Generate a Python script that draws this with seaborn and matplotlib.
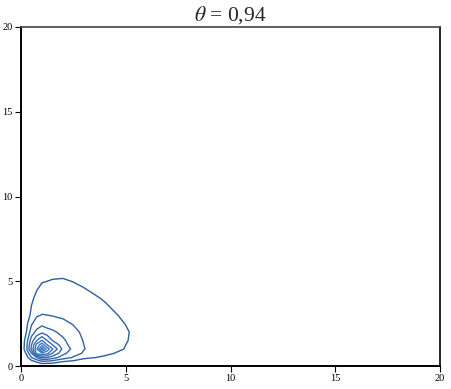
import numpy as np
import matplotlib
matplotlib.use("Agg")
import matplotlib.pyplot as plt
import seaborn as sns


grid_x = [0, 0.25, 0.5, 0.75, 1, 1.25, 1.5, 2, 2.5, 3, 4, 5, 6]
grid_y = [0, 0.25, 0.5, 0.75, 1, 1.25, 1.5, 2, 2.5, 3, 4, 5, 6]

# estimated density (arbitrary units), rows = grid_y, columns = grid_x
density = [
    [0, 0,    0,    0,    0,    0,    0,    0,    0,    0,    0,    0,    0],
    [0, 0.3,  0.5,  1.1,  1.7,  1.6,  1.5,  0.95, 0.7,  0.5,  0.3,  0.15, 0.05],
    [0, 0.5,  2.0,  3.0,  4.2,  4.0,  3.5,  2.5,  1.9,  1.2,  0.85, 0.4,  0.15],
    [0, 1.1,  3.0,  6.4,  6.9,  6.3,  5.0,  3.3,  2.4,  1.9,  1.2,  0.75, 0.3],
    [0, 1.7,  4.2,  6.9,  9.6,  7.6,  6.1,  3.75, 2.73, 2.03, 1.49, 0.95, 0.5],
    [0, 1.6,  4.0,  6.3,  7.6,  6.0,  5.0,  3.4,  2.55, 2.0,  1.5,  1.0,  0.55],
    [0, 1.5,  3.5,  5.0,  6.1,  5.0,  4.0,  3.2,  2.45, 1.95, 1.5,  1.05, 0.6],
    [0, 0.95, 2.5,  3.3,  3.75, 3.4,  3.2,  2.7,  2.2,  1.85, 1.45, 1.08, 0.6],
    [0, 0.7,  1.9,  2.4,  2.73, 2.55, 2.45, 2.2,  1.95, 1.75, 1.35, 0.98, 0.55],
    [0, 0.5,  1.2,  1.9,  2.03, 2.0,  1.95, 1.85, 1.75, 1.57, 1.25, 0.85, 0.45],
    [0, 0.3,  0.85, 1.2,  1.49, 1.5,  1.5,  1.45, 1.35, 1.25, 0.93, 0.6,  0.3],
    [0, 0.15, 0.4,  0.75, 0.95, 1.0,  1.05, 1.08, 0.98, 0.85, 0.6,  0.35, 0.15],
    [0, 0.05, 0.15, 0.3,  0.5,  0.55, 0.6,  0.6,  0.55, 0.45, 0.3,  0.15, 0.05],
]

contour_levels = [1, 2, 3, 4, 5, 6, 7, 8, 9]

x_ticks = [0, 5, 10, 15, 20]
y_ticks = [0, 5, 10, 15, 20]
title_text = r"$\theta$ = 0,94"


sns.set_style("ticks")
plt.rcParams['font.family'] = ['Liberation Serif', 'DejaVu Serif']
plt.rcParams['mathtext.fontset'] = 'stix'

fig = plt.figure(figsize=(4.51, 3.89), dpi=100)
ax = fig.add_axes([21 / 451, 23 / 389, 419 / 451, 339 / 389])

# outer lines a bit darker, inner ones brighter blue
line_colors = sns.blend_palette(["#2f5e9e", "#3b7ccc"], len(contour_levels))
ax.contour(grid_x, grid_y, density, levels=contour_levels,
           colors=line_colors, linewidths=1.0)

ax.set_xlim(0, 20)
ax.set_ylim(0, 20)
ax.set_xticks(x_ticks)
ax.set_yticks(y_ticks)
ax.tick_params(axis='both', direction='out', length=4, width=0.8,
               labelsize=7.5, pad=2, colors='black')

for side in ['left', 'bottom']:
    ax.spines[side].set_linewidth(1.4)
    ax.spines[side].set_color('black')
ax.spines['right'].set_linewidth(1.2)
ax.spines['right'].set_color('black')
ax.spines['top'].set_linewidth(1.2)
ax.spines['top'].set_color('#444444')

ax.set_title(title_text, fontsize=15.5, pad=5)

plt.savefig("out.png", dpi=100)
